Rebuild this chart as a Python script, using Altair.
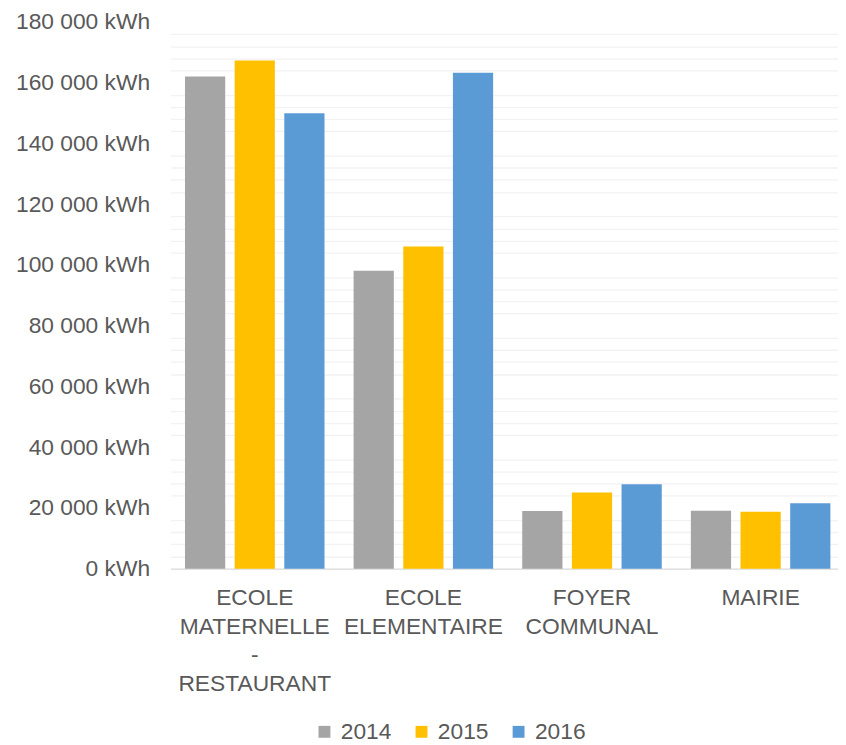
import altair as alt
import pandas as pd

categories = ["ECOLE MATERNELLE - RESTAURANT", "ECOLE ELEMENTAIRE", "FOYER COMMUNAL", "MAIRIE"]
years = ["2014", "2015", "2016"]
values_2014 = [162000, 98100, 19000, 19100]
values_2015 = [167300, 106100, 25100, 18700]
values_2016 = [149900, 163300, 27800, 21500]
colors = ["#a5a5a5", "#ffc000", "#5b9bd5"]
y_ticks = list(range(0, 180001, 20000))
y_minor = [v for v in range(0, 180001, 4000) if v % 20000 != 0]

rows = []
for yr, vals in zip(years, [values_2014, values_2015, values_2016]):
    for c, v in zip(categories, vals):
        rows.append({"cat": c, "year": yr, "kwh": v})
df = pd.DataFrame(rows)

FONT = "Liberation Sans"
TXT = "#595959"
FS = 23

x_scale = alt.Scale(paddingInner=0, paddingOuter=0)
x_enc = alt.X(
    "cat:N", sort=categories, scale=x_scale,
    axis=alt.Axis(title=None, labelAngle=0, labelAlign="center",
                  labelExpr="split(datum.label, ' ')",
                  labelBaseline="top", labelLineHeight=28.7, labelPadding=18.5,
                  labelFontSize=FS, labelColor=TXT, labelFont=FONT, ticks=False,
                  domainColor="#d9d9d9", domainWidth=1.3, grid=False,
                  labelLimit=0, labelOverlap=False),
)
xoff = alt.XOffset("year:N", sort=years,
                   scale=alt.Scale(paddingInner=0.19, paddingOuter=0.293))
y_scale = alt.Scale(domain=[0, 180000], nice=False)

bars = alt.Chart(df).mark_bar().encode(
    x=x_enc,
    xOffset=xoff,
    y=alt.Y("kwh:Q", scale=y_scale,
            axis=alt.Axis(title=None, values=y_ticks,
                          labelExpr="replace(format(datum.value, ','), ',', ' ') + ' kWh'",
                          labelFontSize=FS, labelColor=TXT, labelFont=FONT,
                          labelPadding=21, ticks=False, domain=False,
                          gridColor="#d9d9d9", gridWidth=1.3)),
    color=alt.Color("year:N", sort=years,
                    scale=alt.Scale(domain=years, range=colors),
                    legend=alt.Legend(title=None, orient="none", legendX=144, legendY=705,
                                      direction="horizontal", symbolType="square",
                                      symbolSize=144, symbolStrokeWidth=0,
                                      labelFontSize=FS, labelColor=TXT, labelFont=FONT,
                                      columnPadding=18, labelOffset=5, padding=0)),
)

minor = alt.Chart(df).mark_bar(opacity=0).encode(
    x=alt.X("cat:N", sort=categories, scale=x_scale),
    xOffset=alt.XOffset("year:N", sort=years),
    y=alt.Y("kwh:Q", scale=y_scale,
            axis=alt.Axis(title=None, values=y_minor, labels=False, ticks=False,
                          domain=False, gridColor="#f2f2f2", gridWidth=1.3, orient="right")),
)

chart = alt.layer(minor, bars).resolve_axis(y="independent").properties(
    width=681, height=552,
    autosize=alt.AutoSizeParams(type="none"),
    padding={"left": 164, "top": 10.5, "right": -7, "bottom": 174.5},
).configure_view(stroke=None)

chart.save("out.html", embed_options={"renderer": "svg", "actions": False})
